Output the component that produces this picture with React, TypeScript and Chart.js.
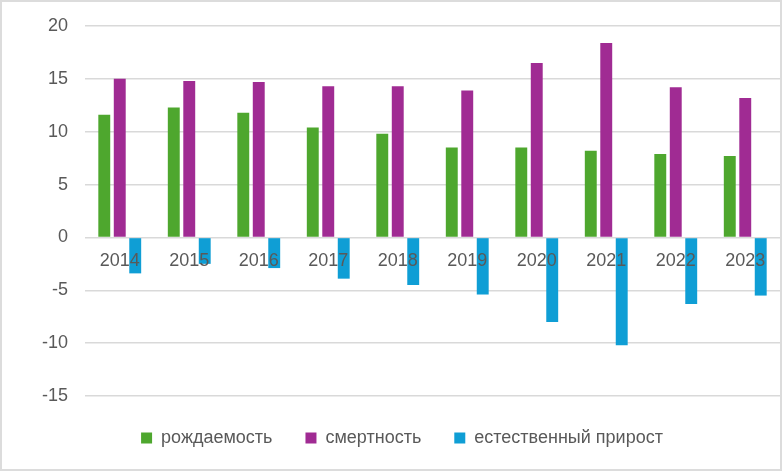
import React, { useEffect, useRef } from "react";
import { Chart, registerables } from "chart.js";

Chart.register(...registerables);

const years = ["2014", "2015", "2016", "2017", "2018", "2019", "2020", "2021", "2022", "2023"];
const birthRate = [11.6, 12.3, 11.8, 10.4, 9.8, 8.5, 8.5, 8.2, 7.9, 7.7];
const deathRate = [15.0, 14.8, 14.7, 14.3, 14.3, 13.9, 16.5, 18.4, 14.2, 13.2];
const naturalGrowth = [-3.4, -2.5, -2.9, -3.9, -4.5, -5.4, -8.0, -10.2, -6.3, -5.5];
const seriesNames = ["рождаемость", "смертность", "естественный прирост"];
const seriesColors = ["#4EA72E", "#A02B93", "#0F9ED5"];

const textColor = "#595959";
const gridColor = "#d9d9d9";
const fontFamily = "'Liberation Sans', Arial, sans-serif";

const App = () => {
  const canvasRef = useRef<HTMLCanvasElement | null>(null);

  useEffect(() => {
    if (!canvasRef.current) return;
    const ctx = canvasRef.current.getContext("2d");
    if (!ctx) return;

    const values = [birthRate, deathRate, naturalGrowth];
    const chart = new Chart(ctx, {
      type: "bar",
      data: {
        labels: years,
        datasets: values.map((data, i) => ({
          label: seriesNames[i],
          data,
          backgroundColor: seriesColors[i],
          borderWidth: 0,
          categoryPercentage: 0.668,
          barPercentage: 0.77,
        })),
      },
      options: {
        responsive: false,
        animation: false,
        maintainAspectRatio: false,
        layout: { padding: { top: 24, left: 22, right: 0, bottom: 12 } },
        plugins: {
          tooltip: { enabled: false },
          legend: {
            position: "bottom",
            labels: {
              boxWidth: 11,
              boxHeight: 11,
              padding: 33,
              color: textColor,
              font: { family: fontFamily, size: 18 },
            },
          },
        },
        scales: {
          x: {
            position: { y: 0 },
            grid: { display: false },
            border: { display: false },
            ticks: {
              z: 1,
              color: textColor,
              font: { family: fontFamily, size: 18 },
              padding: 5,
              maxRotation: 0,
            },
          },
          y: {
            min: -15,
            max: 20,
            afterFit: (scale: any) => {
              scale.width = 61;
            },
            // invisible tick marks push the labels away from the plot
            grid: {
              color: gridColor,
              lineWidth: 1.5,
              drawTicks: true,
              tickLength: 17,
              tickColor: "rgba(0,0,0,0)",
            },
            border: { display: false },
            ticks: {
              stepSize: 5,
              color: textColor,
              font: { family: fontFamily, size: 18 },
              padding: 0,
            },
          },
        },
      },
    });

    return () => {
      chart.destroy();
    };
  }, []);

  return (
    <div
      style={{
        position: "absolute",
        left: 0,
        top: 0,
        width: 782,
        height: 471,
        boxSizing: "border-box",
        border: "2px solid #dcdcdc",
        background: "#fff",
      }}
    >
      <canvas ref={canvasRef} width={778} height={467} style={{ display: "block" }} />
    </div>
  );
};

export default App;
